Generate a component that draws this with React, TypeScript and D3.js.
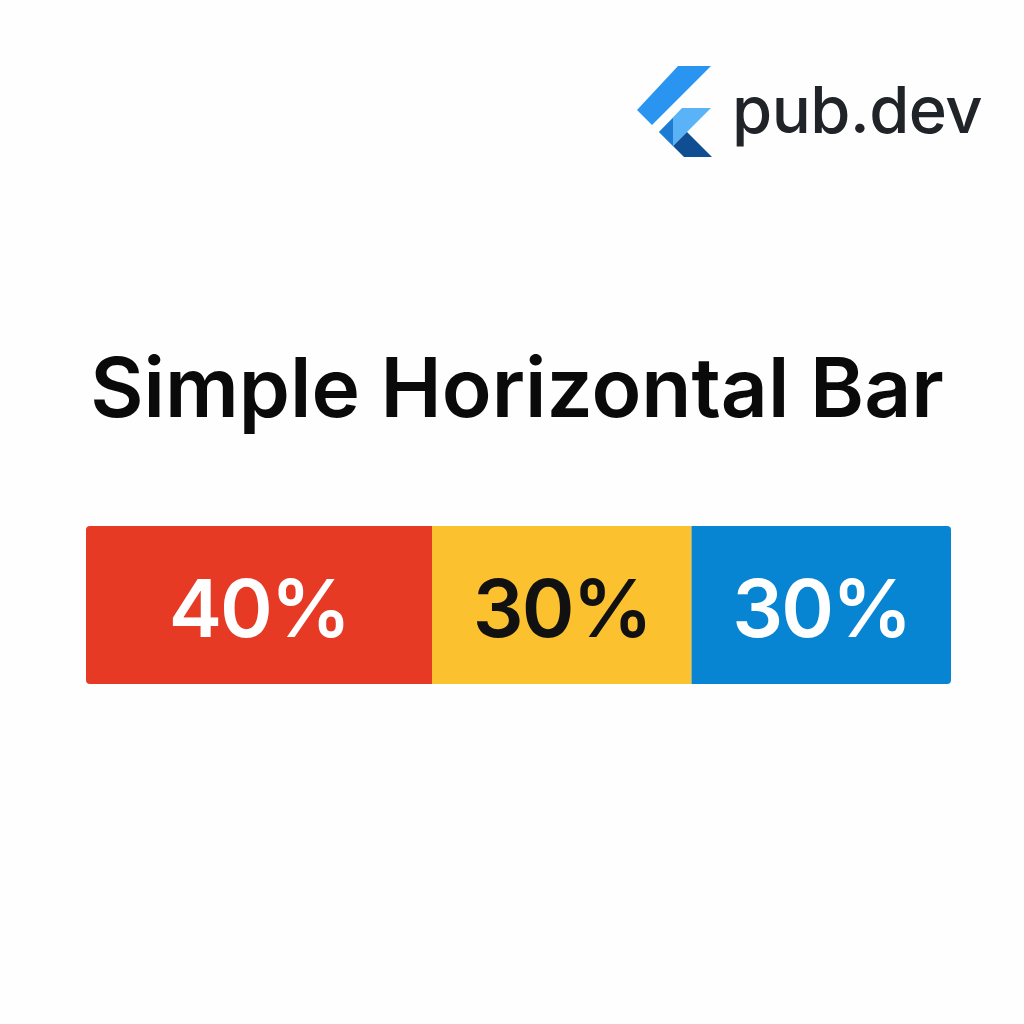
import * as d3 from 'd3';

// chart data
const categories = ['A', 'B', 'C'];
const shares = [40, 30, 30];
const labels = ['40%', '30%', '30%'];
const barColors = ['#E63A25', '#FCC12F', '#0784D2'];
const labelColors = ['#ffffff', '#111111', '#ffffff'];

const title = 'Simple Horizontal Bar';

const width = 1024;
const height = 1024;
const bar = { left: 86, right: 951, top: 526, bottom: 684 };

const FlutterMark = () => (
    <g>
        <polygon points="678,66 711,66 652,125 637,110" fill="#2A95F0" />
        <polygon points="682,108 711,108 673,146 659,132" fill="#5AB2F7" />
        <polygon points="659,132 673,118 673,146" fill="#1E7BD4" />
        <polygon points="673,146 687,132 712,157 684,157" fill="#0F4E93" />
    </g>
);

const App = () => {
    const total = d3.sum(shares);

    const stack = shares.map((v, i) => ({
        key: categories[i],
        start: d3.sum(shares.slice(0, i)),
        end: d3.sum(shares.slice(0, i + 1)),
        label: labels[i],
        color: barColors[i],
        textColor: labelColors[i],
    }));

    const x = d3.scaleLinear().domain([0, total]).range([bar.left, bar.right]);

    const y = d3
        .scaleBand()
        .domain(['row'])
        .range([bar.top, bar.bottom])
        .padding(0);

    const y0 = y('row') ?? bar.top;
    const bh = y.bandwidth();

    return (
        <svg
            width={width}
            height={height}
            style={{ position: 'absolute', left: 0, top: 0, background: '#fefefe' }}
            fontFamily="Inter, 'Noto Sans', sans-serif"
        >
            <defs>
                <clipPath id="barClip">
                    <rect x={x(0)} y={y0} width={x(total) - x(0)} height={bh} rx={4} />
                </clipPath>
            </defs>

            {/* logo */}
            <FlutterMark />
            <text
                x={732}
                y={133}
                fontSize={65}
                fontWeight={500}
                letterSpacing={-0.5}
                fill="#202428"
            >
                pub.dev
            </text>

            {/* title */}
            <text
                x={517}
                y={417}
                textAnchor="middle"
                fontSize={82}
                fontWeight={600}
                fill="#0a0a0a"
            >
                {title}
            </text>

            {/* bars */}
            <g clipPath="url(#barClip)">
                {stack.map((d) => (
                    <rect
                        key={d.key}
                        x={x(d.start)}
                        y={y0}
                        width={x(d.end) - x(d.start)}
                        height={bh}
                        fill={d.color}
                    />
                ))}
            </g>

            {stack.map((d) => (
                <text
                    key={d.key + '-label'}
                    x={(x(d.start) + x(d.end)) / 2}
                    y={637}
                    textAnchor="middle"
                    fontSize={80}
                    fontWeight={600}
                    letterSpacing={-2}
                    fill={d.textColor}
                >
                    {d.label}
                </text>
            ))}
        </svg>
    );
};

export default App;
